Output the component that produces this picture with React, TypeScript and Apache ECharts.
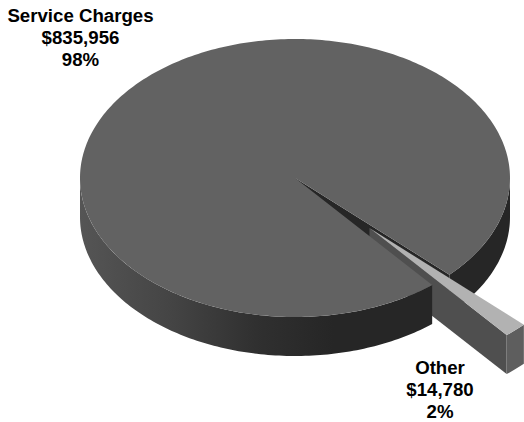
import React, { useEffect, useRef } from "react";
import * as echarts from "echarts";

const categories = ["Service Charges", "Other"];
const amounts = [835956, 14780];
const amountLabels = ["$835,956", "$14,780"];
const percentLabels = ["98%", "2%"];

const FONT = '"Liberation Sans", Arial, sans-serif';
const CX = 295;
const CY = 178;
const RX = 215;
const RY = 139;
const DEPTH = 39;
const START = 44.1;
const EXPLODE_X = 0.51;
const EXPLODE_Y = 0.49;
const TOP_COLORS = ["#626262", "#b2b2b2"];
const LABEL_POS = [
  [80.5, 37],
  [440, 389],
];

const total = amounts.reduce((a, b) => a + b, 0);
const otherSweep = (amounts[1] / total) * 360;
const mid = START + otherSweep / 2;
const rad = (d: number) => (d * Math.PI) / 180;

function arcPoints(cx: number, cy: number, a0: number, a1: number) {
  const pts: number[][] = [];
  const steps = Math.max(2, Math.ceil(Math.abs(a1 - a0) / 1));
  for (let i = 0; i <= steps; i++) {
    const a = rad(a0 + ((a1 - a0) * i) / steps);
    pts.push([cx + RX * Math.cos(a), cy + RY * Math.sin(a)]);
  }
  return pts;
}

function wall(cx: number, cy: number, a0: number, a1: number) {
  const top = arcPoints(cx, cy, a0, a1);
  const bottom = top.map(([x, y]) => [x, y + DEPTH]).reverse();
  return top.concat(bottom);
}

function poly(points: number[][], fill: any) {
  return { type: "polygon", shape: { points }, style: { fill, stroke: "none" }, silent: true };
}

const wallGradient = () =>
  new echarts.graphic.LinearGradient(0, 0, 1, 0, [
    { offset: 0, color: "#555555" },
    { offset: 0.25, color: "#454545" },
    { offset: 0.5, color: "#303030" },
    { offset: 0.72, color: "#262626" },
    { offset: 1, color: "#262626" },
  ]);

// parts drawn back to front: 0 = big slice back walls, 1 = exploded slice, 2 = big slice front
function renderItem(_params: any, api: any) {
  const part = api.value(0);
  const bigStart = START + otherSweep;
  const bigEnd = START + 360;
  if (part === 0) {
    const cut = arcPoints(CX, CY, START, START)[0];
    return {
      type: "group",
      children: [
        poly(
          [
            [CX, CY],
            cut,
            [cut[0], cut[1] + DEPTH],
            [CX, CY + DEPTH],
          ],
          "#262626"
        ),
        poly(wall(CX, CY, 0, START), "#262626"),
      ],
    };
  }
  if (part === 1) {
    const ox = CX + EXPLODE_X * RX * Math.cos(rad(mid));
    const oy = CY + EXPLODE_Y * RY * Math.sin(rad(mid));
    const b = arcPoints(ox, oy, START + otherSweep, START + otherSweep)[0];
    return {
      type: "group",
      children: [
        poly(
          [
            [ox, oy],
            b,
            [b[0], b[1] + DEPTH],
            [ox, oy + DEPTH],
          ],
          "#4f4f4f"
        ),
        poly(wall(ox, oy, START, START + otherSweep), "#5e5e5e"),
        poly([[ox, oy], ...arcPoints(ox, oy, START, START + otherSweep)], TOP_COLORS[1]),
      ],
    };
  }
  return {
    type: "group",
    children: [
      poly(wall(CX, CY, bigStart, 180), wallGradient()),
      poly([[CX, CY], ...arcPoints(CX, CY, bigStart, bigEnd)], TOP_COLORS[0]),
    ],
  };
}

export default function App() {
  const ref = useRef<HTMLDivElement>(null);
  useEffect(() => {
    const chart = echarts.init(ref.current!, null, { renderer: "svg" });
    chart.setOption({
      animation: false,
      backgroundColor: "#ffffff",
      series: [
        {
          type: "custom",
          coordinateSystem: "none",
          renderItem,
          silent: true,
          data: [[0], [1], [2]],
        },
      ],
      graphic: categories.map((name, i) => ({
        type: "text",
        x: LABEL_POS[i][0],
        y: LABEL_POS[i][1],
        z: 10,
        style: {
          text: `${name}\n${amountLabels[i]}\n${percentLabels[i]}`,
          font: `bold 18.67px ${FONT}`,
          lineHeight: 22,
          fill: "#000000",
          align: "center",
          verticalAlign: "middle",
        },
      })),
    });
    return () => chart.dispose();
  }, []);
  return (
    <div
      ref={ref}
      style={{ position: "absolute", left: 0, top: 0, width: 524, height: 422 }}
    />
  );
}
